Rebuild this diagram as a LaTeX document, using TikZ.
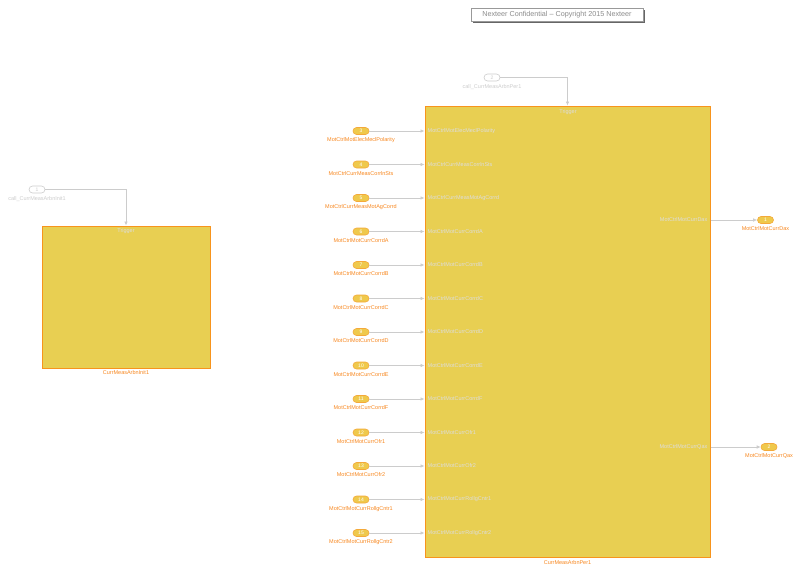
\documentclass[tikz,border=0pt]{standalone}
\usepackage{fontspec}
\setmainfont{Liberation Sans}
\usetikzlibrary{arrows.meta}
\definecolor{blkfill}{HTML}{E8CF52}
\definecolor{blkline}{HTML}{F7941D}
\definecolor{ovfill}{HTML}{EFC94C}
\definecolor{ovline}{HTML}{F4A93A}
\definecolor{lbl}{HTML}{F7861D}
\definecolor{wire}{HTML}{CCCCCC}
\definecolor{inner}{HTML}{DDDDDD}
\tikzset{
  subsys/.style={draw=blkline, fill=blkfill, line width=1pt, inner sep=0},
  portov/.style={draw=ovline, fill=ovfill, line width=0.6pt, rounded corners=3.5pt,
     minimum width=16pt, minimum height=7pt, inner sep=0, font=\fontsize{5}{5}\selectfont, text=white},
  trigov/.style={draw=wire, fill=white, line width=0.6pt, rounded corners=3.5pt,
     minimum width=16pt, minimum height=7pt, inner sep=0, font=\fontsize{5}{5}\selectfont, text=wire},
  olab/.style={font=\fontsize{5.5}{6}\selectfont, text=lbl, inner sep=0},
  tlab/.style={font=\fontsize{5.5}{6}\selectfont, text=wire, inner sep=0},
  ilab/.style={font=\fontsize{5.5}{6}\selectfont, text=inner, inner sep=0},
  wirearr/.style={draw=wire, line width=0.6pt, -{Latex[length=4pt,width=3.5pt]}},
}
\begin{document}
\begin{tikzpicture}[x=1pt,y=-1pt]
\useasboundingbox (0,0) rectangle (802,576);
% banner
\fill[black!60] (473,10) rectangle (645,23);
\node[draw=black!40, fill=white, line width=0.5pt, minimum width=172pt, minimum height=13pt, inner sep=0,
  font=\fontsize{7.2}{8}\selectfont, text=black!45] (banner) at (557,14.5) {Nexteer Confidential -- Copyright 2015 Nexteer};
% left block
\node[subsys, minimum width=168pt, minimum height=142pt] (init) at (126,297) {};
\node[ilab] (inittrig) at (126,231) {Trigger};
\node[olab, anchor=north] (initname) at (126,370.5) {CurrMeasArbnInit1};
\node[trigov] (t1) at (37,189.5) {1};
\node[tlab, anchor=north] (t1l) at (37,196.5) {call\_CurrMeasArbnInit1};
\draw[wirearr] (t1.east) -| (init.north);
% right block
\node[subsys, minimum width=285pt, minimum height=451pt] (per) at (567.5,331.5) {};
\node[ilab] (pertrig) at (568,112) {Trigger};
\node[olab, anchor=north] (pername) at (567.5,560) {CurrMeasArbnPer1};
\node[trigov] (t2) at (492,77.5) {2};
\node[tlab, anchor=north] (t2l) at (492,84.5) {call\_CurrMeasArbnPer1};
\draw[wirearr] (t2.east) -| (per.north);
% inputs
\foreach \n/\y/\name in {
  3/131/MotCtrlMotElecMeclPolarity,
  4/164.5/MotCtrlCurrMeasCorrlnSts,
  5/198/MotCtrlCurrMeasMotAgCorrd,
  6/231.5/MotCtrlMotCurrCorrdA,
  7/265/MotCtrlMotCurrCorrdB,
  8/298.5/MotCtrlMotCurrCorrdC,
  9/332/MotCtrlMotCurrCorrdD,
  10/365.5/MotCtrlMotCurrCorrdE,
  11/399/MotCtrlMotCurrCorrdF,
  12/432.5/MotCtrlMotCurrOfr1,
  13/466/MotCtrlMotCurrOfr2,
  14/499.5/MotCtrlMotCurrRollgCntr1,
  15/533/MotCtrlMotCurrRollgCntr2}{
  \node[portov] (in\n) at (361,\y) {\n};
  \node[olab, anchor=north] (in\n l) at (361,\y+6.5) {\name};
  \coordinate (inp\n) at (per.west |- in\n);
  \draw[wirearr] (in\n.east) -- (inp\n);
  \node[ilab, anchor=west] (inn\n) at ([xshift=3pt]inp\n) {\name};
}
% outputs
\node[portov] (out1) at (765.5,220) {1};
\node[olab, anchor=north] (out1l) at (765.5,226.5) {MotCtrlMotCurrDax};
\coordinate (op1) at (per.east |- out1);
\draw[wirearr] (op1) -- (out1.west);
\node[ilab, anchor=east] (on1) at ([xshift=-3pt]op1) {MotCtrlMotCurrDax};
\node[portov] (out2) at (769,447) {2};
\node[olab, anchor=north] (out2l) at (769,453.5) {MotCtrlMotCurrQax};
\coordinate (op2) at (per.east |- out2);
\draw[wirearr] (op2) -- (out2.west);
\node[ilab, anchor=east] (on2) at ([xshift=-3pt]op2) {MotCtrlMotCurrQax};
\end{tikzpicture}
\end{document}
